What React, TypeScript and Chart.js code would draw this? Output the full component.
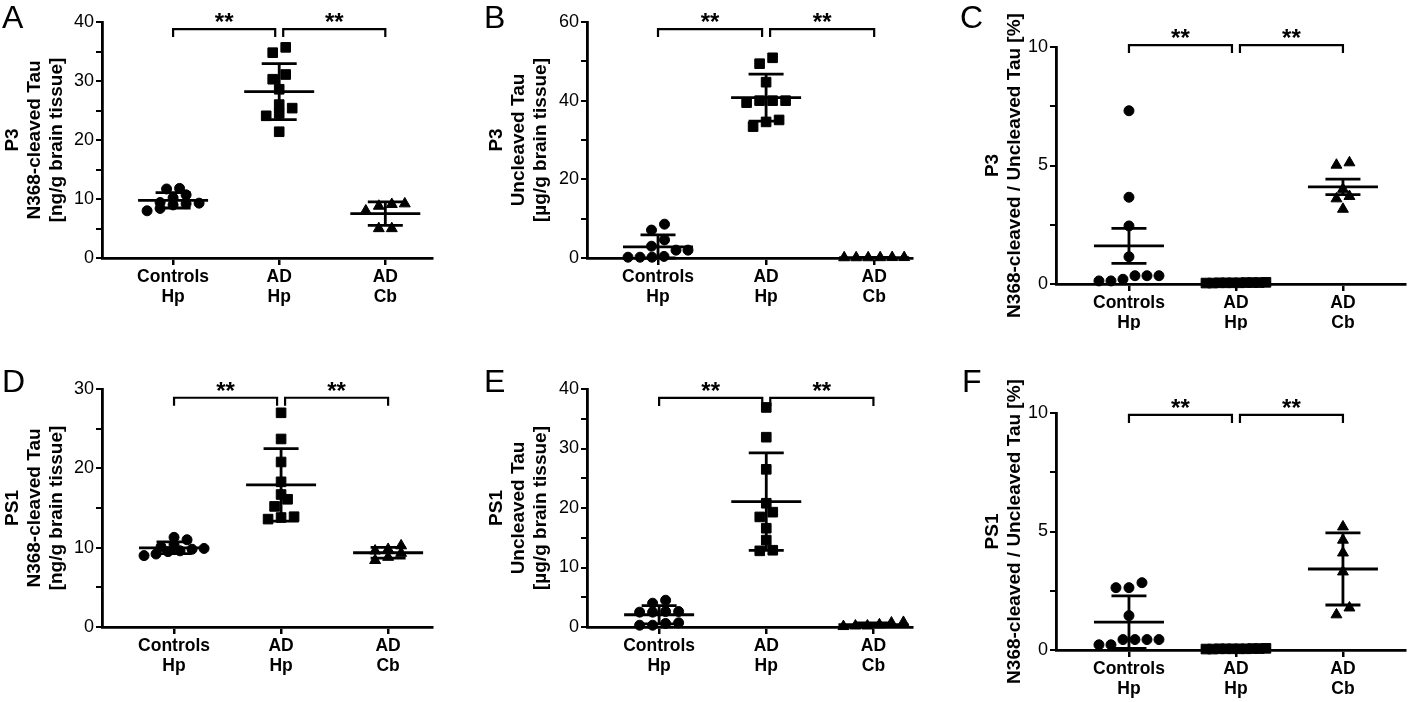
import React, { useEffect, useRef } from "react";
import { Chart, registerables } from "chart.js";

Chart.register(...registerables);

const FONT = "'Liberation Sans', Arial, Helvetica, sans-serif";

// ---------- categories / tick labels ----------
const categoryLabels = [["Controls", "Hp"], ["AD", "Hp"], ["AD", "Cb"]];
const ticksA = [0, 10, 20, 30, 40];
const ticksB = [0, 20, 40, 60];
const ticksC = [0, 5, 10];
const ticksD = [0, 10, 20, 30];
const ticksE = [0, 10, 20, 30, 40];
const ticksF = [0, 5, 10];

// ---------- data ----------
// A: P3, N368-cleaved Tau [ng/g]
const aControls = [11.8, 11.7, 10.7, 10.2, 9.4, 9.3, 9.2, 9.0, 8.4, 8.0];
const aADHp = [35.7, 34.8, 31.1, 30.3, 28.6, 26.0, 25.4, 24.5, 24.1, 21.4];
const aADCb = [9.2, 8.8, 8.0, 9.1, 5.0, 5.0];
// B: P3, Uncleaved Tau [µg/g]
const bControls = [8.6, 7.1, 4.6, 3.0, 2.0, 2.0, 0.4, 0.2, 0.2, 0.2];
const bADHp = [50.9, 49.4, 44.7, 40.0, 40.0, 39.5, 40.0, 35.1, 33.4, 34.6];
const bADCb = [0.15, 0.1, 0.1, 0.1, 0.15, 0.12];
// C: P3, ratio [%]
const cControls = [7.31, 3.66, 2.45, 1.15, 0.35, 0.2, 0.13, 0.13, 0.35, 0.35];
const cADHp = [0.06, 0.05, 0.07, 0.04, 0.05, 0.06, 0.05, 0.04, 0.06, 0.05];
const cADCb = [5.02, 5.12, 4.0, 3.7, 3.6, 3.16];
// D: PS1, N368-cleaved Tau [ng/g]
const dControls = [11.3, 11.0, 10.4, 10.1, 9.9, 9.8, 9.6, 9.5, 9.2, 9.0];
const dADHp = [27.0, 23.7, 20.8, 18.3, 16.7, 16.1, 15.2, 13.9, 13.6, 13.8];
const dADCb = [9.8, 9.3, 8.4, 8.8, 9.6, 10.25];
// E: PS1, Uncleaved Tau [µg/g]
const eControls = [4.5, 4.0, 2.5, 2.6, 2.6, 2.5, 0.6, 0.3, 0.3, 0.7];
const eADHp = [36.9, 31.9, 26.5, 20.8, 19.3, 18.5, 16.6, 14.6, 12.8, 12.9];
const eADCb = [0.7, 0.2, 0.1, 0.2, 0.4, 0.8];
// F: PS1, ratio [%]
const fControls = [2.84, 2.63, 2.63, 1.45, 0.44, 0.44, 0.44, 0.44, 0.22, 0.22];
const fADHp = [0.05, 0.06, 0.04, 0.05, 0.07, 0.05, 0.04, 0.06, 0.05, 0.05];
const fADCb = [5.2, 4.64, 4.1, 3.3, 1.78, 1.49];

// ---------- styling ----------
const markerStyles = ["circle", "rect", "triangle"];
const markerRadius = [5, 6.8, 6.3];
const ROW_H = 8;
const SPACING = 13;
const MAX_SPAN = 60;

type Panel = {
  letter: string;
  letterX: number;
  letterBaseline: number;
  title: string[];
  groups: number[][];
  tickLabels: number[];
  minorStep: number;
  err: "sd" | "sem";
  bracketAt: number;
  left: number;
  top: number;
  width: number;
  height: number;
  axisX: number;
  areaTop: number;
  areaBottom: number;
  areaRight: number;
  xMin: number;
  xMax: number;
};

const panels: Panel[] = [
  {
    letter: "A", letterX: 2, letterBaseline: 28,
    title: ["P3", "N368-cleaved Tau", "[ng/g brain tissue]"],
    groups: [aControls, aADHp, aADCb], tickLabels: ticksA, minorStep: 5, err: "sd", bracketAt: 38.8,
    left: 0, top: 0, width: 470, height: 330, axisX: 102, areaTop: 22, areaBottom: 258, areaRight: 432,
    xMin: 0.33, xMax: 3.44,
  },
  {
    letter: "B", letterX: 484, letterBaseline: 28,
    title: ["P3", "Uncleaved Tau", "[µg/g brain tissue]"],
    groups: [bControls, bADHp, bADCb], tickLabels: ticksB, minorStep: 10, err: "sd", bracketAt: 58.2,
    left: 484, top: 0, width: 470, height: 330, axisX: 587, areaTop: 22, areaBottom: 258, areaRight: 912,
    xMin: 0.343, xMax: 3.35,
  },
  {
    letter: "C", letterX: 960, letterBaseline: 28,
    title: ["P3", "N368-cleaved / Uncleaved Tau [%]"],
    groups: [cControls, cADHp, cADCb], tickLabels: ticksC, minorStep: 2.5, err: "sem", bracketAt: 10.08,
    left: 980, top: 0, width: 438, height: 330, axisX: 1056, areaTop: 47, areaBottom: 284, areaRight: 1405,
    xMin: 0.318, xMax: 3.58,
  },
  {
    letter: "D", letterX: 2, letterBaseline: 392,
    title: ["PS1", "N368-cleaved Tau", "[ng/g brain tissue]"],
    groups: [dControls, dADHp, dADCb], tickLabels: ticksD, minorStep: 5, err: "sd", bracketAt: 28.9,
    left: 0, top: 360, width: 470, height: 342, axisX: 102, areaTop: 389, areaBottom: 627, areaRight: 432,
    xMin: 0.327, xMax: 3.41,
  },
  {
    letter: "E", letterX: 484, letterBaseline: 392,
    title: ["PS1", "Uncleaved Tau", "[µg/g brain tissue]"],
    groups: [eControls, eADHp, eADCb], tickLabels: ticksE, minorStep: 5, err: "sd", bracketAt: 38.5,
    left: 484, top: 360, width: 470, height: 342, axisX: 587, areaTop: 389, areaBottom: 627, areaRight: 912,
    xMin: 0.327, xMax: 3.36,
  },
  {
    letter: "F", letterX: 962, letterBaseline: 392,
    title: ["PS1", "N368-cleaved / Uncleaved Tau [%]"],
    groups: [fControls, fADHp, fADCb], tickLabels: ticksF, minorStep: 2.5, err: "sd", bracketAt: 9.92,
    left: 980, top: 360, width: 438, height: 342, axisX: 1056, areaTop: 413, areaBottom: 650, areaRight: 1405,
    xMin: 0.318, xMax: 3.58,
  },
];

// ---------- plugins ----------
const swarmPlugin = {
  id: "swarm",
  afterDatasetsUpdate(chart: any) {
    const xs = chart.scales.x;
    chart.data.datasets.forEach((_ds: any, di: number) => {
      const meta = chart.getDatasetMeta(di);
      const cx = xs.getPixelForValue(di + 1);
      const els = [...meta.data].sort((a: any, b: any) => b.y - a.y);
      let i = 0;
      while (i < els.length) {
        let j = i + 1;
        while (j < els.length && els[i].y - els[j].y < ROW_H) j++;
        const row = els.slice(i, j);
        const n = row.length;
        const sp = n > 1 ? Math.min(SPACING, MAX_SPAN / (n - 1)) : 0;
        row.forEach((el: any, k: number) => {
          el.x = cx + (k - (n - 1) / 2) * sp;
        });
        i = j;
      }
    });
  },
};

const meanErrPlugin = {
  id: "meanErr",
  afterDatasetsDraw(chart: any, _args: any, opts: any) {
    const { ctx } = chart;
    const xs = chart.scales.x;
    const ys = chart.scales.y;
    ctx.save();
    ctx.strokeStyle = "#000";
    ctx.lineWidth = 2.8;
    chart.data.datasets.forEach((ds: any, i: number) => {
      const vals: number[] = ds.data.map((d: any) => d.y);
      const n = vals.length;
      const mean = vals.reduce((s, v) => s + v, 0) / n;
      const sd = Math.sqrt(vals.reduce((s, v) => s + (v - mean) * (v - mean), 0) / (n - 1));
      const e = opts.kind === "sem" ? sd / Math.sqrt(n) : sd;
      const cx = xs.getPixelForValue(i + 1);
      const ym = ys.getPixelForValue(mean);
      const yh = ys.getPixelForValue(mean + e);
      const yl = ys.getPixelForValue(Math.max(mean - e, ys.min));
      ctx.beginPath();
      ctx.moveTo(cx - 35, ym);
      ctx.lineTo(cx + 35, ym);
      ctx.moveTo(cx, yh);
      ctx.lineTo(cx, yl);
      ctx.moveTo(cx - 17.5, yh);
      ctx.lineTo(cx + 17.5, yh);
      ctx.moveTo(cx - 17.5, yl);
      ctx.lineTo(cx + 17.5, yl);
      ctx.stroke();
    });
    ctx.restore();
  },
};

const bracketPlugin = {
  id: "brackets",
  afterDraw(chart: any, _args: any, opts: any) {
    const { ctx } = chart;
    const xs = chart.scales.x;
    const ys = chart.scales.y;
    const yb = ys.getPixelForValue(opts.at);
    const x1 = xs.getPixelForValue(1);
    const x2 = xs.getPixelForValue(2);
    const x3 = xs.getPixelForValue(3);
    const gap = 4;
    const drop = 8;
    ctx.save();
    ctx.strokeStyle = "#000";
    ctx.lineWidth = 2.2;
    const bracket = (a: number, b: number) => {
      ctx.beginPath();
      ctx.moveTo(a, yb + drop);
      ctx.lineTo(a, yb);
      ctx.lineTo(b, yb);
      ctx.lineTo(b, yb + drop);
      ctx.stroke();
      ctx.fillStyle = "#000";
      ctx.font = `bold 24px ${FONT}`;
      ctx.textAlign = "center";
      ctx.textBaseline = "alphabetic";
      ctx.fillText("**", (a + b) / 2, yb + 1);
    };
    bracket(x1, x2 - gap);
    bracket(x2 + gap, x3);
    ctx.restore();
  },
};

function zeroPad(s: any) {
  s.paddingLeft = 0;
  s.paddingRight = 0;
  s.paddingTop = 0;
  s.paddingBottom = 0;
}

function PanelChart({ p }: { p: Panel }) {
  const ref = useRef<HTMLCanvasElement>(null);
  useEffect(() => {
    const canvas = ref.current;
    if (!canvas) return;
    const yW = p.axisX - p.left;
    const xH = p.top + p.height - p.areaBottom;
    const yMax = p.tickLabels[p.tickLabels.length - 1];
    const chart = new Chart(canvas, {
      type: "scatter",
      data: {
        datasets: p.groups.map((vals, gi) => ({
          data: vals.map((v) => ({ x: gi + 1, y: v })),
          pointStyle: markerStyles[gi] as any,
          pointRadius: markerRadius[gi],
          pointHoverRadius: markerRadius[gi],
          pointBackgroundColor: "#000",
          pointBorderColor: "#000",
          pointBorderWidth: 1,
          showLine: false,
          clip: false as any,
        })),
      },
      options: {
        responsive: false,
        animation: false,
        devicePixelRatio: 1,
        events: [],
        layout: {
          padding: { left: 0, top: p.areaTop - p.top, right: p.left + p.width - p.areaRight, bottom: 0 },
        },
        plugins: {
          legend: { display: false },
          tooltip: { enabled: false },
          meanErr: { kind: p.err },
          brackets: { at: p.bracketAt },
        } as any,
        scales: {
          x: {
            type: "linear",
            min: p.xMin,
            max: p.xMax,
            afterBuildTicks: (s: any) => {
              s.ticks = [1, 2, 3].map((value) => ({ value }));
            },
            afterFit: (s: any) => {
              s.height = xH;
              zeroPad(s);
            },
            grid: { display: true, drawOnChartArea: false, drawTicks: true, tickLength: 7, color: "#000", lineWidth: 2.5 },
            border: { display: true, color: "#000", width: 2.8 },
            ticks: {
              autoSkip: false,
              maxRotation: 0,
              minRotation: 0,
              padding: 2,
              color: "#000",
              font: { family: FONT, size: 17.5, weight: "bold", lineHeight: 1.15 },
              callback: (v: any) => categoryLabels[Math.round(Number(v)) - 1] ?? "",
            },
          },
          y: {
            type: "linear",
            min: 0,
            max: yMax,
            afterFit: (s: any) => {
              s.width = yW;
              zeroPad(s);
            },
            grid: { display: true, drawOnChartArea: false, drawTicks: true, tickLength: 6, color: "#000", lineWidth: 2 },
            border: { display: true, color: "#000", width: 2.8 },
            ticks: {
              stepSize: p.minorStep,
              padding: 2,
              color: "#000",
              font: { family: FONT, size: 18 },
              callback: (v: any) => (p.tickLabels.includes(Number(v)) ? String(v) : ""),
            },
            title: {
              display: true,
              text: p.title,
              color: "#000",
              font: { family: FONT, size: 19, weight: "bold", lineHeight: 22 / 19 },
              padding: { top: 2, bottom: 0 },
            },
          },
        },
      } as any,
      plugins: [swarmPlugin, meanErrPlugin, bracketPlugin],
    });
    return () => chart.destroy();
  }, [p]);
  return (
    <canvas
      ref={ref}
      width={p.width}
      height={p.height}
      style={{ position: "absolute", left: p.left, top: p.top, width: p.width, height: p.height }}
    />
  );
}

export default function App() {
  return (
    <div
      style={{
        position: "fixed",
        left: 0,
        top: 0,
        width: 1418,
        height: 702,
        background: "#fff",
        overflow: "hidden",
      }}
    >
      {panels.map((p) => (
        <PanelChart key={p.letter} p={p} />
      ))}
      {panels.map((p) => (
        <div
          key={"L" + p.letter}
          style={{
            position: "absolute",
            left: p.letterX,
            top: p.letterBaseline - 27,
            fontFamily: FONT,
            fontSize: 32,
            lineHeight: "32px",
            color: "#000",
          }}
        >
          {p.letter}
        </div>
      ))}
    </div>
  );
}
